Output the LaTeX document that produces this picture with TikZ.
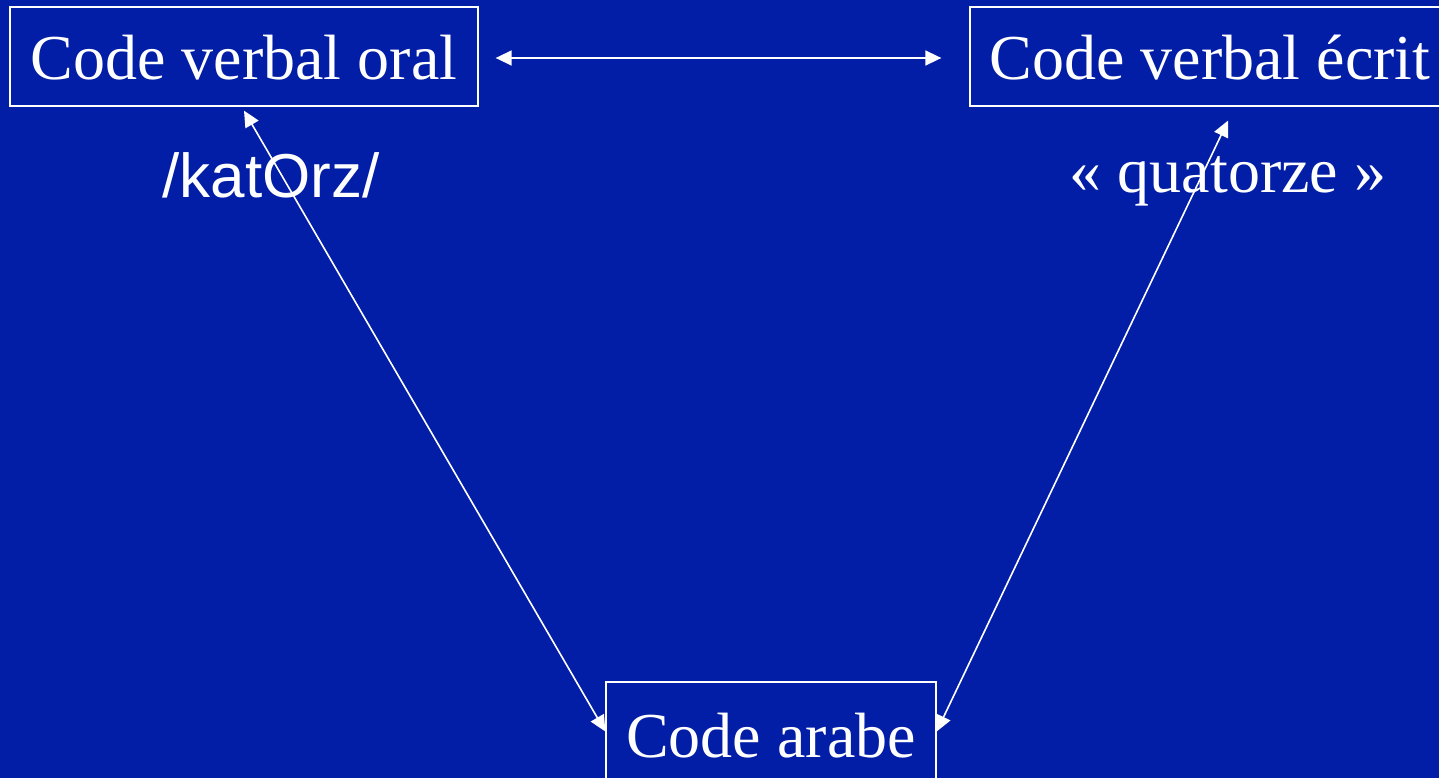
\documentclass[tikz,border=0pt]{standalone}
\usepackage{fontspec}
\setmainfont{Liberation Serif}
\newfontfamily\glossfont{Liberation Sans}
\usetikzlibrary{arrows.meta}
\definecolor{slideblue}{RGB}{2,30,167}
\begin{document}
\begin{tikzpicture}[x=1pt,y=-1pt,
  codebox/.style={draw=white, line width=1.3pt, text=white, anchor=base,
    inner xsep=0pt, inner ysep=0pt, font=\fontsize{64}{70}\selectfont},
  link/.style={draw=white, line width=1.6pt,
    {Triangle[length=16pt,width=15pt]}-{Triangle[length=16pt,width=15pt]}},
  gloss/.style={text=white, inner sep=0pt, anchor=base}]
% slide background
\fill[slideblue] (0,0) rectangle (1439,778);
\useasboundingbox (0,0) rectangle (1439,778);

% the three codes
\node[codebox, minimum width=468pt, text height=73pt, text depth=26pt]
  (oral) at (244,80) {Code verbal oral};
\node[codebox, minimum width=480pt, text height=73pt, text depth=26pt]
  (ecrit) at (1210,80) {Code verbal écrit};
\node[codebox, minimum width=330pt, text height=75pt, text depth=24pt]
  (arabe) at (771,757) {Code arabe};

% examples of each form
\node[gloss, font=\glossfont\fontsize{62}{68}\selectfont] (phon) at (271,197) {/katOrz/};
\node[gloss, font=\fontsize{64}{70}\selectfont] (mot) at (1228,193) {«~quatorze~»};

% transcoding routes
\draw[link] ([xshift=17pt,yshift=-1.5pt]oral.east) -- ([xshift=-28pt,yshift=-1.5pt]ecrit.west);
\draw[link] ([yshift=-4pt]oral.south) -- (arabe.west);
\draw[link] ([xshift=18pt,yshift=-14pt]ecrit.south) -- (arabe.east);
\end{tikzpicture}
\end{document}
